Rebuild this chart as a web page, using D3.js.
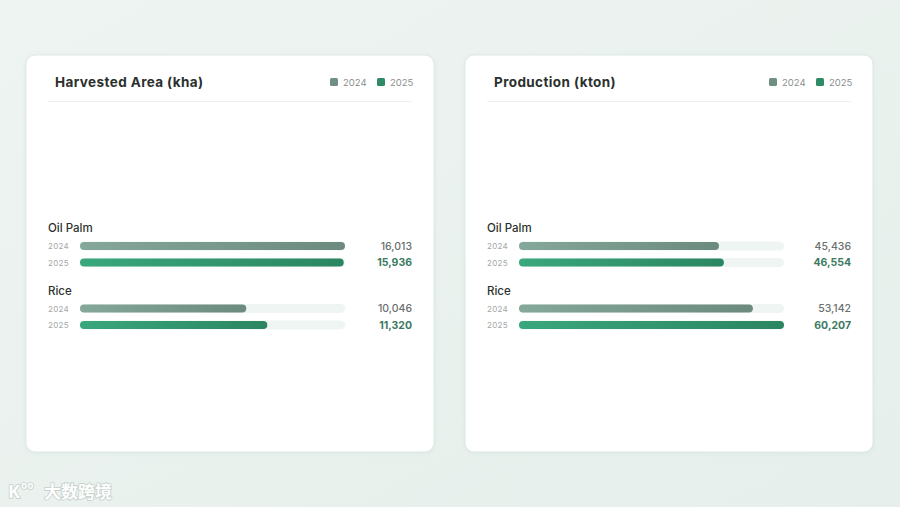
<!DOCTYPE html>
<html><head><meta charset="utf-8">
<script src="https://cdn.jsdelivr.net/npm/d3@7"></script>
<style>
html,body{margin:0;padding:0;}
body{width:900px;height:507px;overflow:hidden;background:#e9f1ee;}
svg{display:block;}
</style></head>
<body>
<svg id="chart" width="900" height="507"></svg>
<script>
const categories = ["Oil Palm", "Rice"];
const years = ["2024", "2025"];
const panelTitles = ["Harvested Area (kha)", "Production (kton)"];
const areaValues2024 = [16013, 10046];
const areaValues2025 = [15936, 11320];
const prodValues2024 = [45436, 53142];
const prodValues2025 = [46554, 60207];

const panels = [
  {title: panelTitles[0], s: [areaValues2024, areaValues2025]},
  {title: panelTitles[1], s: [prodValues2024, prodValues2025]}
];

const svg = d3.select("#chart");
const defs = svg.append("defs");

const bg = defs.append("linearGradient").attr("id","bg").attr("x1","0").attr("y1","0").attr("x2","1").attr("y2","1");
bg.append("stop").attr("offset","0").attr("stop-color","#eef4f1");
bg.append("stop").attr("offset","1").attr("stop-color","#e6efeb");
svg.append("rect").attr("width",900).attr("height",507).attr("fill","url(#bg)");

const g24 = defs.append("linearGradient").attr("id","g24");
g24.append("stop").attr("offset","0").attr("stop-color","#84a899");
g24.append("stop").attr("offset","1").attr("stop-color","#6c8a7e");
const g25 = defs.append("linearGradient").attr("id","g25");
g25.append("stop").attr("offset","0").attr("stop-color","#3aa77c");
g25.append("stop").attr("offset","1").attr("stop-color","#2a8661");
const sh = defs.append("filter").attr("id","sh").attr("x","-10%").attr("y","-10%").attr("width","120%").attr("height","120%");
sh.append("feDropShadow").attr("dx",0).attr("dy",1).attr("stdDeviation",2).attr("flood-color","#7fa394").attr("flood-opacity",0.12);

const font = "Inter, 'Noto Sans', sans-serif";
const cardX = [26, 465], cardW = 408, cardY = 55, cardH = 397;
const legendColors = ["#6f8f82", "#2e8b66"];
const valueColors = ["#6a6f6d", "#3b7a5f"];

panels.forEach((p, pi) => {
  const g = svg.append("g").attr("transform", `translate(${cardX[pi]},${cardY})`);
  g.append("rect").attr("width",cardW).attr("height",cardH).attr("rx",9)
    .attr("fill","#ffffff").attr("stroke","#dde9e4").attr("stroke-width",1).attr("filter","url(#sh)");
  g.append("text").attr("x",29).attr("y",32).attr("font-family",font).attr("font-size",13.5)
    .attr("font-weight",700).attr("fill","#2b302e").attr("letter-spacing",0.4).text(p.title);
  g.append("line").attr("x1",22).attr("x2",386).attr("y1",46.5).attr("y2",46.5).attr("stroke","#edf1ef");
  const lx = [304, 351];
  years.forEach((y, yi) => {
    g.append("rect").attr("x",lx[yi]).attr("y",23).attr("width",8).attr("height",8).attr("rx",1.5).attr("fill",legendColors[yi]);
    g.append("text").attr("x",lx[yi]+13).attr("y",30.5).attr("font-family",font).attr("font-size",9.5)
      .attr("fill","#8a8f8d").text(y);
  });
  const maxV = d3.max(p.s.flat());
  const x = d3.scaleLinear().domain([0, maxV]).range([54, 319]);
  const catY = d3.scaleBand().domain(categories).range([173, 298]).paddingInner(0);
  categories.forEach((c, ci) => {
    const cy = catY(c);
    g.append("text").attr("x",22).attr("y",cy+4).attr("font-family",font).attr("font-size",11.5)
      .attr("font-weight",500).attr("fill","#2b302e").text(c);
    years.forEach((yr, yi) => {
      const ry = cy + 18 + yi*16.5;
      g.append("text").attr("x",22).attr("y",ry+3).attr("font-family",font).attr("font-size",8)
        .attr("fill","#a3a8a6").attr("letter-spacing",0.3).text(yr);
      g.append("rect").attr("x",x(0)).attr("y",ry-4.5).attr("width",x(maxV)-x(0)).attr("height",9).attr("rx",4.5)
        .attr("fill","#eef5f2");
      const v = p.s[yi][ci];
      g.append("rect").attr("x",x(0)).attr("y",ry-4).attr("width",x(v)-x(0)).attr("height",8).attr("rx",4)
        .attr("fill", yi===0 ? "url(#g24)" : "url(#g25)");
      g.append("text").attr("x",386).attr("y",ry+3.5).attr("text-anchor","end").attr("font-family",font)
        .attr("font-size",10.5).attr("font-weight", yi===0 ? 500 : 700).attr("fill",valueColors[yi])
        .text(d3.format(",")(v));
    });
  });
});

// watermark
const wm = svg.append("g");
const wmStyle = sel => sel.attr("fill","#ffffff").attr("stroke","#c3cfca").attr("stroke-width",1.6)
  .attr("paint-order","stroke").attr("stroke-linejoin","round");
wmStyle(wm.append("text").attr("x",8).attr("y",498).attr("font-family","'Noto Sans', sans-serif").attr("font-size",18)
  .attr("font-weight",700).text("K"));
wmStyle(wm.append("text").attr("x",21).attr("y",489).attr("font-family","'Noto Sans', sans-serif").attr("font-size",10)
  .attr("font-weight",700).text("oo"));
wmStyle(wm.append("text").attr("x",44).attr("y",498).attr("font-family","'Noto Sans CJK SC'").attr("font-size",17)
  .attr("font-weight",700).text("大数跨境"));
</script>
</body></html>
